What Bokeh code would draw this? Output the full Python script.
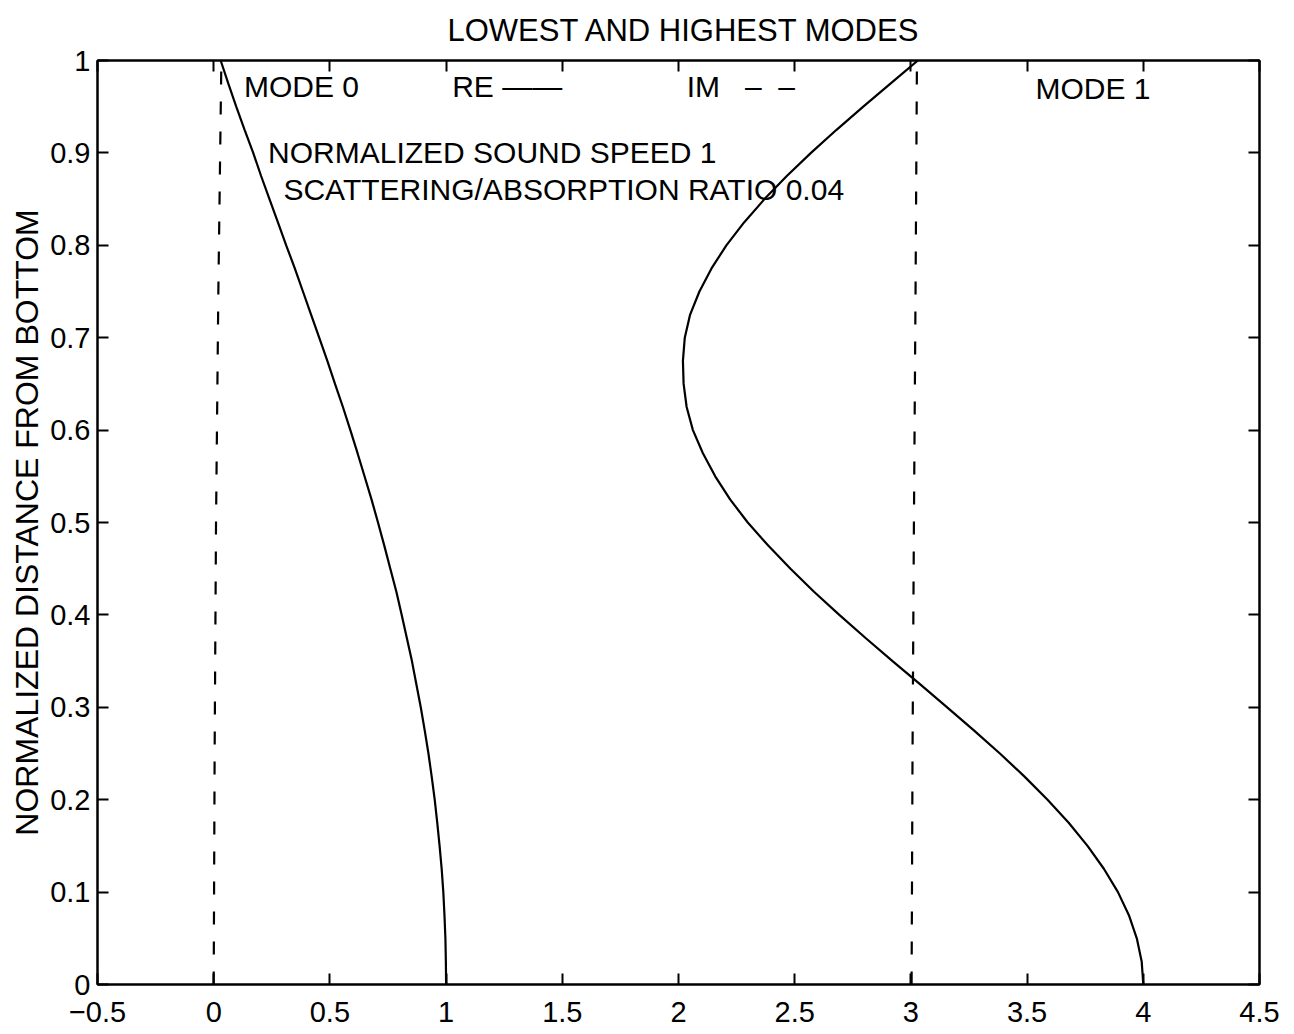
from bokeh.plotting import figure
from bokeh.models import Range1d, FixedTicker, LinearAxis, ColumnDataSource
from bokeh.core.properties import value
from bokeh.embed import file_html
from bokeh.resources import INLINE

# ---------------- data ----------------
depth = [0.000, 0.025, 0.050, 0.075, 0.100, 0.125, 0.150, 0.175, 0.200, 0.225,
         0.250, 0.275, 0.300, 0.325, 0.350, 0.375, 0.400, 0.425, 0.450, 0.475,
         0.500, 0.525, 0.550, 0.575, 0.600, 0.625, 0.650, 0.675, 0.700, 0.725,
         0.750, 0.775, 0.800, 0.825, 0.850, 0.875, 0.900, 0.925, 0.950, 0.975,
         1.000]

mode0_re = [1.000, 0.999, 0.997, 0.993, 0.988, 0.981, 0.972, 0.962, 0.951, 0.938,
            0.924, 0.908, 0.891, 0.872, 0.853, 0.831, 0.809, 0.786, 0.760, 0.734,
            0.707, 0.679, 0.649, 0.619, 0.588, 0.556, 0.522, 0.489, 0.454, 0.419,
            0.384, 0.349, 0.312, 0.276, 0.240, 0.204, 0.170, 0.133, 0.097, 0.063,
            0.030]

mode1_re = [4.000, 3.993, 3.972, 3.938, 3.891, 3.831, 3.760, 3.679, 3.588, 3.489,
            3.383, 3.271, 3.156, 3.039, 2.921, 2.805, 2.692, 2.583, 2.482, 2.386,
            2.298, 2.222, 2.158, 2.105, 2.062, 2.035, 2.022, 2.019, 2.027, 2.050,
            2.090, 2.142, 2.206, 2.283, 2.370, 2.466, 2.570, 2.680, 2.795, 2.912,
            3.030]

depth_im = [0.00, 0.25, 0.50, 0.75, 1.00]
mode0_im = [0.000, 0.004, 0.010, 0.020, 0.033]
mode1_im = [3.003, 3.007, 3.013, 3.020, 3.026]

x_ticks = [-0.5, 0, 0.5, 1, 1.5, 2, 2.5, 3, 3.5, 4, 4.5]
x_tick_labels = ["\u22120.5", "0", "0.5", "1", "1.5", "2", "2.5", "3", "3.5", "4", "4.5"]
y_ticks = [0, 0.1, 0.2, 0.3, 0.4, 0.5, 0.6, 0.7, 0.8, 0.9, 1]
y_tick_labels = ["0", "0.1", "0.2", "0.3", "0.4", "0.5", "0.6", "0.7", "0.8", "0.9", "1"]

title_text = "LOWEST AND HIGHEST MODES"
y_label = "NORMALIZED DISTANCE FROM BOTTOM"
NB = "\u00a0"
notes = ["MODE 0", "RE " + "\u2014\u2014", "IM" + NB * 3 + "\u2013" + NB * 2 + "\u2013", "MODE 1",
         "NORMALIZED SOUND SPEED 1", "SCATTERING/ABSORPTION RATIO 0.04"]
# annotation anchor positions (data coordinates, left/baseline)
note_x = [0.130, 1.026, 2.035, 3.536, 0.234, 0.300]
note_y = [0.972, 0.972, 0.972, 0.970, 0.900, 0.860]

FONT = "Liberation Sans"

p = figure(width=1294, height=1034, output_backend="svg", toolbar_location=None,
           x_range=Range1d(-0.5, 4.5), y_range=Range1d(0, 1),
           min_border_left=97, min_border_right=35, min_border_top=60,
           min_border_bottom=50, background_fill_color="white",
           border_fill_color="white")

p.title.text = title_text
p.title.text_font = FONT
p.title.text_font_size = "31px"
p.title.text_font_style = "normal"
p.title.align = "left"
p.title.offset = 350
p.title.vertical_align = "top"
p.title.standoff = 22
p.title.text_color = "black"

p.xgrid.visible = False
p.ygrid.visible = False
p.outline_line_color = "black"
p.outline_line_width = 2

def style_axis(ax, ticks, labels):
    ax.ticker = FixedTicker(ticks=ticks)
    ax.major_label_overrides = {t: l for t, l in zip(ticks, labels)}
    ax.major_tick_in = 11
    ax.major_tick_out = 0
    ax.minor_tick_line_color = None
    ax.major_tick_line_width = 2
    ax.major_tick_line_color = "black"
    ax.axis_line_width = 2
    ax.axis_line_color = "black"
    ax.major_label_text_font = FONT
    ax.major_label_text_color = "black"
    ax.major_label_text_font_size = "29px"

def tick_only_axis(ticks):
    ax = LinearAxis(ticker=FixedTicker(ticks=[], minor_ticks=ticks))
    ax.major_tick_line_color = None
    ax.minor_tick_in = 11
    ax.minor_tick_out = 0
    ax.minor_tick_line_width = 2
    ax.minor_tick_line_color = "black"
    ax.axis_line_width = 2
    ax.axis_line_color = "black"
    return ax

style_axis(p.xaxis[0], x_ticks, x_tick_labels)
p.xaxis[0].major_label_standoff = 17
style_axis(p.yaxis[0], y_ticks, y_tick_labels)
p.yaxis[0].major_label_standoff = 7
p.yaxis[0].axis_label = y_label
p.yaxis[0].axis_label_text_font = FONT
p.yaxis[0].axis_label_text_font_size = "32px"
p.yaxis[0].axis_label_text_font_style = "normal"
p.yaxis[0].axis_label_text_color = "black"
p.yaxis[0].axis_label_standoff = 2

p.add_layout(tick_only_axis(x_ticks), "above")
p.add_layout(tick_only_axis(y_ticks), "right")

src_re = ColumnDataSource(dict(y=depth, m0=mode0_re, m1=mode1_re))
src_im = ColumnDataSource(dict(y=depth_im, m0=mode0_im, m1=mode1_im))

p.line(x="m0", y="y", source=src_re, line_color="black", line_width=2.2)
p.line(x="m1", y="y", source=src_re, line_color="black", line_width=2.2)
p.line(x="m0", y="y", source=src_im, line_color="black", line_width=2.2, line_dash="13 17")
p.line(x="m1", y="y", source=src_im, line_color="black", line_width=2.2, line_dash="13 17")

src_txt = ColumnDataSource(dict(x=note_x, y=note_y, t=notes))
p.text(x="x", y="y", text="t", source=src_txt, text_font=value(FONT),
       text_font_size="30px", text_color="black", text_align="left",
       text_baseline="alphabetic")

open("out.html", "w").write(file_html(p, INLINE))
